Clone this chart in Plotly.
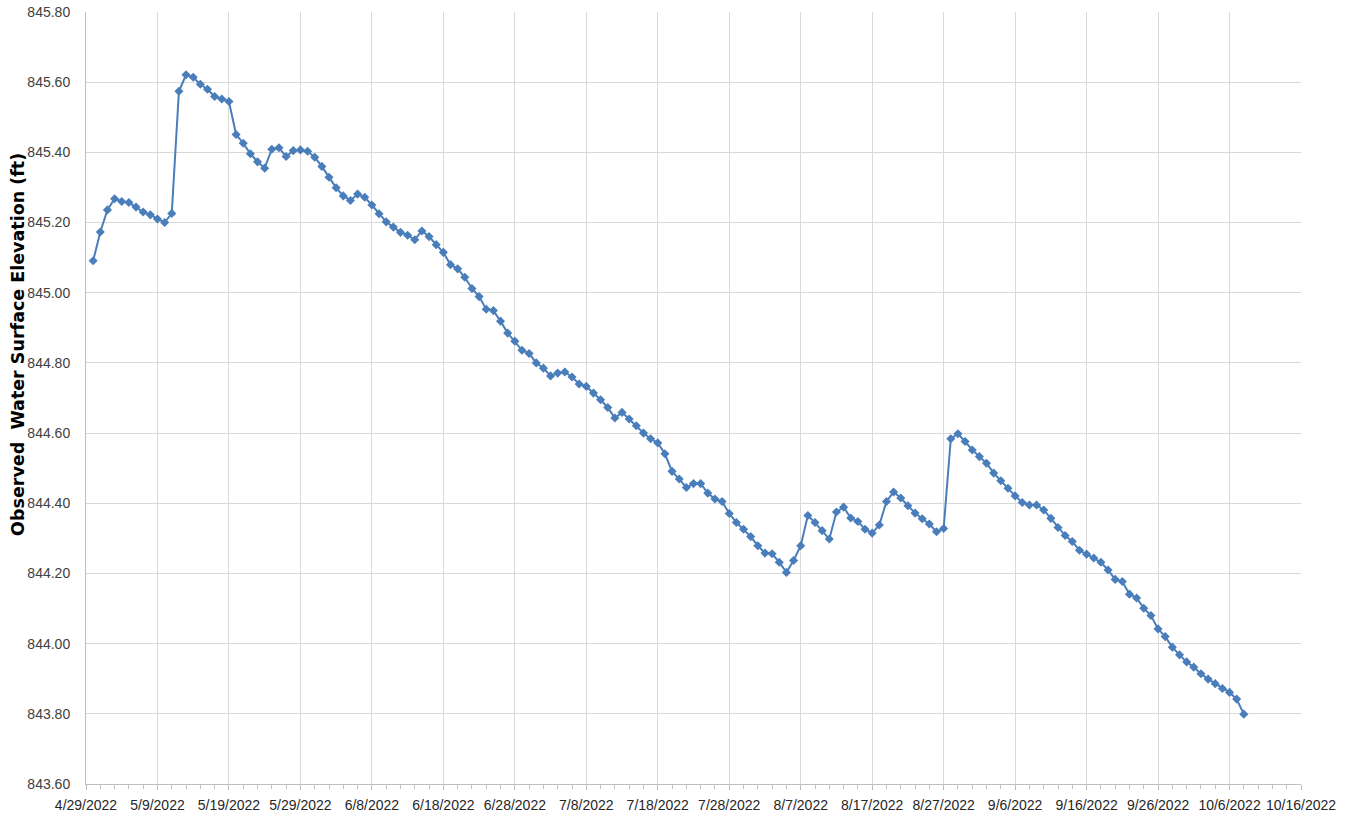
import pandas as pd
import plotly.graph_objects as go

start_date = "2022-04-30"
elevation_ft = [
    845.091, 845.173, 845.236, 845.268, 845.260, 845.257, 845.244, 845.230, 845.222, 845.210,
    845.200, 845.226, 845.574, 845.621, 845.614, 845.594, 845.580, 845.559, 845.552, 845.545,
    845.451, 845.426, 845.396, 845.373, 845.355, 845.409, 845.413, 845.388, 845.405, 845.407,
    845.403, 845.386, 845.360, 845.329, 845.299, 845.276, 845.263, 845.281, 845.272, 845.250,
    845.225, 845.202, 845.187, 845.172, 845.164, 845.151, 845.176, 845.160, 845.137, 845.115,
    845.080, 845.068, 845.044, 845.012, 844.989, 844.953, 844.949, 844.919, 844.885, 844.862,
    844.836, 844.827, 844.800, 844.785, 844.763, 844.771, 844.774, 844.760, 844.740, 844.733,
    844.714, 844.695, 844.673, 844.643, 844.659, 844.640, 844.621, 844.600, 844.584, 844.572,
    844.541, 844.491, 844.469, 844.445, 844.456, 844.456, 844.429, 844.412, 844.405, 844.371,
    844.345, 844.326, 844.305, 844.279, 844.258, 844.256, 844.232, 844.203, 844.237, 844.279,
    844.365, 844.345, 844.322, 844.298, 844.375, 844.389, 844.358, 844.348, 844.326, 844.315,
    844.338, 844.405, 844.432, 844.415, 844.393, 844.372, 844.356, 844.341, 844.319, 844.328,
    844.584, 844.598, 844.576, 844.552, 844.533, 844.514, 844.486, 844.464, 844.443, 844.421,
    844.402, 844.395, 844.395, 844.381, 844.357, 844.331, 844.308, 844.291, 844.266, 844.255,
    844.244, 844.232, 844.210, 844.183, 844.177, 844.141, 844.130, 844.101, 844.080, 844.042,
    844.020, 843.990, 843.968, 843.948, 843.933, 843.914, 843.899, 843.886, 843.872, 843.861,
    843.842, 843.799,
]
dates = pd.date_range(start_date, periods=len(elevation_ft), freq="D")

x_range = ["2022-04-29", "2022-10-16"]
y_range = [843.6, 845.8]
y_title = "Observed  Water Surface Elevation (ft)"

fig = go.Figure(
    go.Scatter(
        x=dates,
        y=elevation_ft,
        mode="lines+markers",
        line=dict(color="#4A7EBB", width=2),
        marker=dict(symbol="diamond", size=7, color="#4A7EBB"),
        showlegend=False,
    )
)

fig.update_layout(
    width=1354,
    height=817,
    margin=dict(l=86, r=53, t=12, b=33),
    paper_bgcolor="white",
    plot_bgcolor="white",
    font=dict(family="Liberation Sans, Arial, sans-serif", size=12, color="#262626"),
)

fig.update_xaxes(
    type="date",
    range=x_range,
    automargin=False,
    tick0="2022-04-29",
    dtick=10 * 86400000,
    tickformat="%-m/%-d/%Y",
    showgrid=True,
    gridcolor="#D9D9D9",
    gridwidth=1,
    showline=True,
    linecolor="#BFBFBF",
    linewidth=1,
    ticks="outside",
    ticklen=5,
    tickcolor="#BFBFBF",
    ticklabelstandoff=3,
    minor=dict(dtick=2 * 86400000, tick0="2022-04-29", ticks="outside", ticklen=4,
               tickcolor="#BFBFBF", showgrid=False),
    tickfont=dict(size=14, color="#262626"),
    zeroline=False,
)

fig.update_yaxes(
    range=y_range,
    automargin=False,
    dtick=0.2,
    tickformat=".2f",
    showgrid=True,
    gridcolor="#D9D9D9",
    gridwidth=1,
    showline=True,
    linecolor="#BFBFBF",
    linewidth=1,
    ticks="",
    ticklabelstandoff=12,
    tickfont=dict(size=14, color="#404040"),
    zeroline=False,
)

fig.add_annotation(
    text="<b>" + y_title + "</b>",
    xref="paper", yref="paper",
    x=-0.056, y=0.570,
    xanchor="center", yanchor="middle",
    textangle=-90,
    showarrow=False,
    font=dict(size=17.5, color="#000000", family="DejaVu Sans, Liberation Sans, sans-serif"),
)

fig.write_html(
    "out.html",
    config={"displayModeBar": False},
    post_script="document.body.style.margin='0';document.body.style.overflow='hidden';",
)
